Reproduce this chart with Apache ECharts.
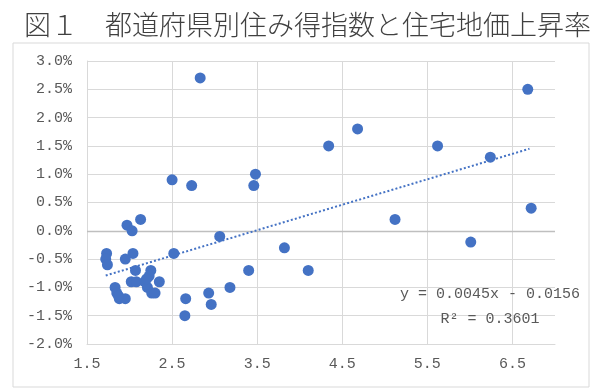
<!DOCTYPE html>
<html>
<head>
<meta charset="utf-8">
<script src="https://cdn.jsdelivr.net/npm/echarts@6/dist/echarts.min.js"></script>
<style>html,body{margin:0;padding:0;background:#fff}#c{width:600px;height:392px}</style>
</head>
<body>
<div id="c"></div>
<script>
// Data (x: 住み得指数, y: 住宅地価上昇率 %)
const xValues = [2.83, 6.68, 4.68, 4.34, 5.62, 6.24, 3.48, 3.46, 6.72, 5.12, 6.01, 2.50, 2.73, 3.06, 2.52, 3.40, 3.18, 2.93, 2.96, 2.66, 2.65, 3.82, 4.10, 2.13, 1.97, 2.03, 1.73, 1.72, 1.74, 2.04, 1.95, 2.07, 2.25, 2.02, 2.08, 2.18, 2.23, 2.35, 1.83, 2.21, 1.85, 1.88, 1.95, 2.26, 2.30, 1.87, 2.20];
const yValues = [2.7, 2.5, 1.8, 1.5, 1.5, 1.3, 1.0, 0.8, 0.4, 0.2, -0.2, 0.9, 0.8, -0.1, -0.4, -0.7, -1.0, -1.1, -1.3, -1.2, -1.5, -0.3, -0.7, 0.2, 0.1, 0.0, -0.4, -0.5, -0.6, -0.4, -0.5, -0.7, -0.7, -0.9, -0.9, -0.9, -0.8, -0.9, -1.0, -1.0, -1.1, -1.2, -1.2, -1.1, -1.1, -1.15, -0.85];
const trendX = [1.72, 6.70];
const trendY = [-0.79, 1.45];
const titleText = '図１　都道府県別住み得指数と住宅地価上昇率';
const equationLines = ['y = 0.0045x - 0.0156', 'R² = 0.3601'];

const points = xValues.map((x, i) => [x, yValues[i]]);
const trend = trendX.map((x, i) => [x, trendY[i]]);

const monoFont = '"Liberation Mono", "DejaVu Sans Mono", monospace';
const gridColor = '#d9d9d9';
const labelColor = '#595959';

const chart = echarts.init(document.getElementById('c'), null, {renderer: 'canvas'});
chart.setOption({
  animation: false,
  backgroundColor: '#fff',
  title: {
    text: titleText,
    left: 19,
    top: 6,
    textStyle: {
      fontFamily: '"Noto Sans CJK JP", sans-serif',
      fontSize: 27,
      fontWeight: 300,
      color: '#404040'
    }
  },
  grid: {left: 87, right: 45, top: 61, bottom: 48},
  xAxis: {
    type: 'value',
    min: 1.5,
    max: 7,
    interval: 1,
    axisLine: {show: true, onZero: false, lineStyle: {color: gridColor, width: 1}},
    axisTick: {show: false},
    axisLabel: {
      margin: 13,
      showMaxLabel: false,
      color: labelColor,
      fontFamily: monoFont,
      fontSize: 15,
      formatter: v => v.toFixed(1)
    },
    splitLine: {show: true, showMaxLine: false, lineStyle: {color: gridColor, width: 1}}
  },
  yAxis: {
    type: 'value',
    min: -2,
    max: 3,
    interval: 0.5,
    axisLine: {show: true, lineStyle: {color: gridColor, width: 1}},
    axisTick: {show: false},
    axisLabel: {
      margin: 15,
      color: labelColor,
      fontFamily: monoFont,
      fontSize: 15,
      formatter: v => v.toFixed(1) + '%'
    },
    splitLine: {show: true, lineStyle: {color: gridColor, width: 1}}
  },
  series: [
    {
      type: 'line',
      data: trend,
      showSymbol: false,
      symbol: 'none',
      silent: true,
      z: 3,
      lineStyle: {color: '#4472C4', width: 2, type: [2, 2.2]}
    },
    {
      type: 'scatter',
      data: points,
      symbol: 'circle',
      symbolSize: 11,
      z: 4,
      itemStyle: {color: '#4472C4', opacity: 1},
      markLine: {
        silent: true,
        symbol: 'none',
        label: {show: false},
        lineStyle: {color: '#bfbfbf', width: 1.3, type: 'solid'},
        data: [{yAxis: 0}],
        z: 1
      }
    }
  ],
  graphic: [
    {
      type: 'rect',
      shape: {x: 13, y: 43, width: 576, height: 344},
      style: {fill: null, stroke: '#d9d9d9', lineWidth: 1},
      silent: true,
      z: -1
    },
    {
      type: 'text',
      x: 490, y: 294,
      style: {
        text: equationLines[0],
        align: 'center', verticalAlign: 'middle',
        font: '15px ' + monoFont,
        fill: labelColor
      },
      z: 10
    },
    {
      type: 'text',
      x: 490, y: 319,
      style: {
        text: equationLines[1],
        align: 'center', verticalAlign: 'middle',
        font: '15px ' + monoFont,
        fill: labelColor
      },
      z: 10
    }
  ]
});
</script>
</body>
</html>
